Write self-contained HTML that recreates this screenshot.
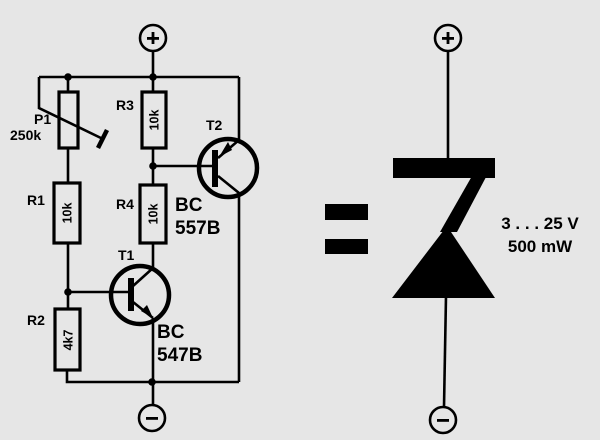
<!DOCTYPE html>
<html><head><meta charset="utf-8"><style>
html,body{margin:0;padding:0;background:#e6e6e6;}
svg{display:block;}
text{font-family:"Liberation Sans",sans-serif;font-weight:bold;fill:#000;}
</style></head><body>
<svg width="600" height="440" viewBox="0 0 600 440" xmlns="http://www.w3.org/2000/svg">
<rect width="600" height="440" fill="#e6e6e6"/>
<g stroke="#000" stroke-width="2.6" fill="none">
<circle cx="153" cy="38" r="13"/>
<line x1="153" y1="51" x2="153" y2="92"/>
<line x1="39" y1="77" x2="239" y2="77"/>
<line x1="68" y1="77" x2="68" y2="92"/>
<rect x="59" y="92" width="19" height="56" stroke-width="3.2"/>
<polyline points="39,77 39,108 103,139"/>
<line x1="98" y1="148" x2="107" y2="130" stroke-width="4.5"/>
<line x1="68" y1="148" x2="68" y2="183"/>
<rect x="54" y="183" width="26" height="60" stroke-width="3.2"/>
<line x1="68" y1="243" x2="68" y2="310"/>
<rect x="55" y="309" width="25" height="61" stroke-width="3.2"/>
<polyline points="67,370 67,382 239,382"/>
<rect x="142" y="92" width="24" height="56" stroke-width="3.2"/>
<line x1="153" y1="148" x2="153" y2="185"/>
<rect x="140" y="185" width="26" height="58" stroke-width="3.2"/>
<line x1="153" y1="243" x2="153" y2="268"/>
<circle cx="140" cy="295" r="29" stroke-width="4.5"/>
<line x1="68" y1="292" x2="128" y2="292"/>
<line x1="131" y1="278" x2="131" y2="311" stroke-width="6"/>
<line x1="133" y1="286" x2="153" y2="268"/>
<line x1="133" y1="302" x2="153" y2="318"/>
<line x1="153" y1="318" x2="153" y2="405"/>
<circle cx="228" cy="168" r="29" stroke-width="4.5"/>
<line x1="153" y1="166" x2="213" y2="166"/>
<line x1="215" y1="150" x2="215" y2="187" stroke-width="6"/>
<line x1="218" y1="158" x2="239" y2="140"/>
<line x1="239" y1="140" x2="239" y2="77"/>
<line x1="218" y1="176" x2="239" y2="193"/>
<line x1="239" y1="193" x2="239" y2="382"/>
<circle cx="152" cy="418" r="13"/>
<circle cx="448" cy="38" r="13"/>
<line x1="448" y1="51" x2="448" y2="160"/>
<line x1="446" y1="296" x2="444" y2="407"/>
<circle cx="443" cy="420" r="13"/>
</g>
<g fill="#000">
<circle cx="68" cy="77" r="3.8"/><circle cx="153" cy="77" r="3.8"/>
<circle cx="153" cy="166" r="3.8"/><circle cx="68" cy="292" r="3.8"/>
<circle cx="152" cy="382" r="3.8"/>
<polygon points="153,318 141,311 147,305"/>
<polygon points="219,157 228,142 232,150"/>
<rect x="147" y="37" width="12" height="2.8"/><rect x="151.6" y="32" width="2.8" height="12"/>
<rect x="146" y="417" width="12" height="2.8"/>
<rect x="442" y="37" width="12" height="2.8"/><rect x="446.6" y="32" width="2.8" height="12"/>
<rect x="437" y="419" width="12" height="2.8"/>
<rect x="393" y="158" width="102" height="20"/>
<polygon points="472,176 495,160 457,232 440,232"/>
<polygon points="447,226 495,298 392,298"/>
<rect x="325" y="204" width="43" height="16"/>
<rect x="325" y="239" width="43" height="15"/>
</g>
<g font-size="14">
<text x="34" y="124">P1</text>
<text x="10" y="140">250k</text>
<text x="116" y="110">R3</text>
<text x="206" y="130">T2</text>
<text x="27" y="205">R1</text>
<text x="116" y="209">R4</text>
<text x="118" y="260">T1</text>
<text x="27" y="325">R2</text>
</g>
<g font-size="12.5">
<text transform="translate(158.5,120) rotate(-90)" text-anchor="middle">10k</text>
<text transform="translate(71.5,213) rotate(-90)" text-anchor="middle">10k</text>
<text transform="translate(157.5,214) rotate(-90)" text-anchor="middle">10k</text>
<text transform="translate(72.5,340) rotate(-90)" text-anchor="middle">4k7</text>
</g>
<g font-size="19">
<text x="175" y="211">BC</text>
<text x="175" y="234">557B</text>
<text x="157" y="338">BC</text>
<text x="157" y="361">547B</text>
</g>
<g font-size="17" text-anchor="middle">
<text x="540" y="229">3 . . . 25 V</text>
<text x="540" y="252">500 mW</text>
</g>
</svg>
</body></html>
